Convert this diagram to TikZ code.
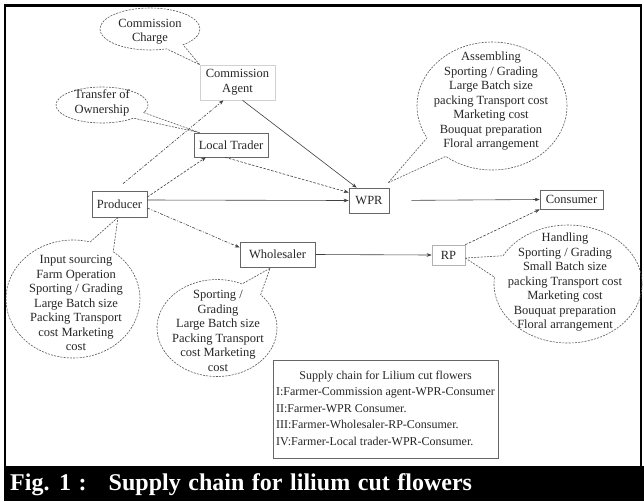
\documentclass[tikz,border=0pt]{standalone}
\usepackage{fontspec}
\setmainfont{Liberation Serif}
\usetikzlibrary{shapes.callouts,arrows.meta}
\begin{document}
\begin{tikzpicture}[x=1pt,y=-1pt,
  lbl/.style={font=\fontsize{12.5}{14.5}\selectfont, align=center, inner sep=0pt, text=black!85},
  box/.style={draw=black!60, line width=0.6pt, inner sep=0pt, align=center, font=\fontsize{12.5}{15}\selectfont, text=black!85},
  bubble/.style={ellipse callout, draw=black!65, line width=0.6pt, dash pattern=on 2pt off 1.2pt, inner sep=0pt, callout pointer arc=22},
  arr/.style={draw=black!75, line width=0.6pt, -{Stealth[length=5pt,width=3.6pt]}},
  dsh/.style={dash pattern=on 2.5pt off 1.5pt},
  dshd/.style={dash pattern=on 3pt off 1.5pt on 1pt off 1.5pt}
]
\useasboundingbox (0,0) rectangle (644,501);
\fill[white] (0,0) rectangle (644,501);
% frame and caption bar
\draw[line width=2pt] (5,466) -- (5,5) -- (641,5) -- (641,466);
\draw[line width=3pt] (4,5) -- (642,5);
\fill[black] (4,466) rectangle (644,501);
\node[anchor=base west, text=white, font=\fontsize{24}{24}\selectfont\bfseries, inner sep=0pt] (cap) at (10,490) {\spaceskip=7.6pt Fig. 1 :\hspace{22pt}Supply chain for lilium cut flowers};

% boxes
\node[box, minimum width=75pt, minimum height=35pt, draw=black!18] (cagent) at (237.5,82.5) {Commission\\Agent};
\node[box, minimum width=74pt, minimum height=24pt] (ltrader) at (231,145) {Local Trader};
\node[box, minimum width=55pt, minimum height=26pt] (producer) at (119.5,204) {Producer};
\node[box, minimum width=40pt, minimum height=25pt] (wpr) at (369,200.5) {WPR};
\node[box, minimum width=63pt, minimum height=19pt] (consumer) at (571.5,199.5) {Consumer};
\node[box, minimum width=75pt, minimum height=25pt] (wholesaler) at (277.5,254.5) {Wholesaler};
\node[box, minimum width=33pt, minimum height=20pt, draw=black!30] (rp) at (448.5,255) {RP};

% callouts
\node[bubble, minimum width=100pt, minimum height=42pt, callout absolute pointer={(cagent.north west)}] (cc) at (150,29) {};
\node[bubble, minimum width=92pt, minimum height=36pt, callout absolute pointer={([xshift=6pt]ltrader.north west)}] (to) at (102,105) {};
\node[bubble, minimum width=150pt, minimum height=128pt, callout absolute pointer={([xshift=-1pt,yshift=5pt]wpr.north east)}] (wprc) at (492,106) {};
\node[bubble, minimum width=148pt, minimum height=118pt, callout absolute pointer={([yshift=-3pt]rp.east)}] (rpc) at (568,284) {};
\node[bubble, minimum width=134pt, minimum height=118pt, callout absolute pointer={([xshift=-1.5pt]producer.south)}] (pc) at (73,299) {};
\node[bubble, minimum width=120pt, minimum height=97pt, callout absolute pointer={([xshift=-7.5pt,yshift=-1pt]wholesaler.south)}] (wc) at (217,328) {};

\node[lbl] (cct) at (150,31.5) {Commission\\Charge};
\node[lbl] (tot) at (102,103) {Transfer of\\Ownership};
\node[lbl] (wprt) at (491,101.5) {Assembling\\Sporting / Grading\\Large Batch size\\packing Transport cost\\Marketing cost\\Bouquat preparation\\Floral arrangement};
\node[lbl] (rpt) at (565,282.5) {Handling\\Sporting / Grading\\Small Batch size\\packing Transport cost\\Marketing cost\\Bouquat preparation\\Floral arrangement};
\node[lbl] (pct) at (76,303) {Input sourcing\\Farm Operation\\Sporting / Grading\\Large Batch size\\Packing Transport\\cost Marketing\\cost};
\node[lbl] (wct) at (218,331) {Sporting /\\Grading\\Large Batch size\\Packing Transport\\cost Marketing\\cost};

% legend
\node[draw=black!60, line width=0.6pt, minimum width=225pt, minimum height=98pt, inner sep=0pt, text=black!85, font=\fontsize{12}{16.5}\selectfont] (legend) at (385.5,409) {\begin{tabular}{@{}l@{}}\multicolumn{1}{@{}c@{}}{Supply chain for Lilium cut flowers}\\ I:Farmer-Commission agent-WPR-Consumer\\ II:Farmer-WPR Consumer.\\ III:Farmer-Wholesaler-RP-Consumer.\\ IV:Farmer-Local trader-WPR-Consumer.\end{tabular}};

% connectors
\draw[arr, dshd, shorten <=11pt] ([xshift=-5pt]producer.north) -- ([xshift=-14pt]cagent.south);
\draw[arr, dsh] ([yshift=7pt]producer.east) -- ([xshift=-25pt]ltrader.south);
\draw[arr] ([xshift=5pt]cagent.south) -- ([xshift=8pt]wpr.north west);
\draw[arr, dsh] ([xshift=-6pt]ltrader.south) -- ([yshift=8pt]wpr.west);
\draw[arr] ([yshift=4pt]producer.east) -- (wpr.west);
\draw[arr, dshd] ([yshift=-4pt]producer.east) -- ([yshift=7pt]wholesaler.west);
\draw[arr, shorten <=22pt] (wpr.east) -- (consumer.west);
\draw[arr] (wholesaler.east) -- (rp.west);
\draw[arr, dsh] (rp.north east) -- (consumer.south west);
\end{tikzpicture}
\end{document}
